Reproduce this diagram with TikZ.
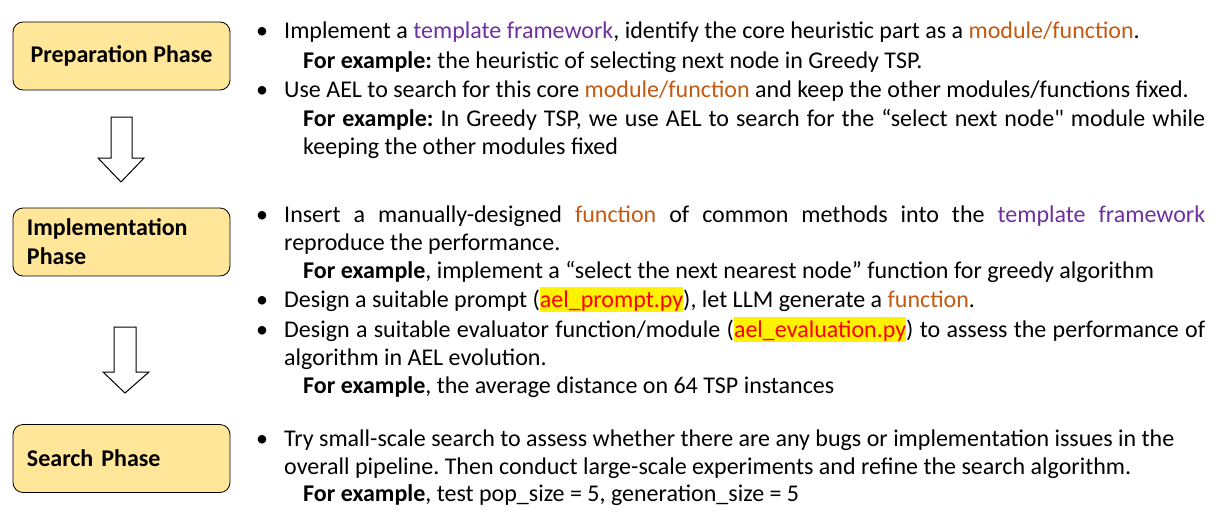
\documentclass[tikz,border=0pt]{standalone}
\usepackage{fontspec}
\setmainfont{Carlito}[Ligatures=TeXOff]
\usepackage{xcolor}
\definecolor{tplpurple}{HTML}{7030A0}
\definecolor{fnorange}{HTML}{C55A11}
\definecolor{phasefill}{HTML}{FFE699}
\newcommand{\tpl}[1]{\textcolor{tplpurple}{#1}}
\newcommand{\fn}[1]{\textcolor{fnorange}{#1}}
\newcommand{\hlfile}[1]{{\setlength{\fboxsep}{0pt}\colorbox{yellow}{\rule[-0.22em]{0pt}{1.05em}\textcolor{red}{#1}}}}
\frenchspacing
\begin{document}
\begin{tikzpicture}[x=1pt,y=-1pt,
  phase/.style={draw=black, line width=0.8pt, rounded corners=10pt, fill=phasefill,
    minimum width=217pt, minimum height=68pt, font=\fontsize{24}{29}\selectfont\bfseries},
  txt/.style={anchor=base west, inner sep=0pt, font=\fontsize{24}{29}\selectfont},
  bul/.style={anchor=base west, inner sep=0pt, font=\fontsize{24}{29}\selectfont},
  blockarrow/.style={draw=black, line width=1pt, fill=white, line join=miter}]
\useasboundingbox (0,0) rectangle (1220,514);
\fill[white] (0,0) rectangle (1220,514);

% phase boxes
\node[phase] (prep) at (121.5,56) {Preparation Phase};
\node[phase, text width=189pt, align=left] (impl) at (121.5,242) {Implementation\\Phase};
\node[phase, text width=189pt, align=left] (search) at (121.5,458.5) {Search Phase};

% block arrows
\draw[blockarrow] (111,117) -- (132,117) -- (132,158) -- (144,158) -- (121,182) -- (98,158) -- (111,158) -- cycle;
\draw[blockarrow] (114,327) -- (136,327) -- (136,372) -- (149,372) -- (125,393) -- (103,372) -- (114,372) -- cycle;

% section 1
\node[bul] (b1) at (256,38) {•};
\node[txt] (l11) at (284,38) {Implement a \tpl{template framework}, identify the core heuristic part as a \fn{module/function}.};
\node[txt] (l12) at (303,68) {\textbf{For example:} the heuristic of selecting next node in Greedy TSP.};
\node[bul] (b2) at (256,97) {•};
\node[txt] (l13) at (284,97) {Use AEL to search for this core \fn{module/function} and keep the other modules/functions fixed.};
\node[txt] (l14) at (303,126) {\makebox[902pt][s]{\textbf{For example:}\ In Greedy TSP, we use AEL to search for the “select next node" module while}};
\node[txt] (l15) at (303,154) {keeping the other modules fixed};

% section 2
\node[bul] (b3) at (256,222) {•};
\node[txt] (l21) at (284,222) {\makebox[921pt][s]{Insert a manually-designed \fn{function} of common methods into the \tpl{template framework}}};
\node[txt] (l22) at (284,250) {reproduce the performance.};
\node[txt] (l23) at (303,278) {\textbf{For example}, implement a “select the next nearest node” function for greedy algorithm};
\node[bul] (b4) at (256,307) {•};
\node[txt] (l24) at (284,307) {Design a suitable prompt (\hlfile{ael\_prompt.py}), let LLM generate a \fn{function}.};
\node[bul] (b5) at (256,337) {•};
\node[txt] (l25) at (284,337) {\makebox[921pt][s]{Design a suitable evaluator function/module (\hlfile{ael\_evaluation.py}) to assess the performance of}};
\node[txt] (l26) at (284,365) {algorithm in AEL evolution.};
\node[txt] (l27) at (303,393) {\textbf{For example}, the average distance on 64 TSP instances};

% section 3
\node[bul] (b6) at (256,446) {•};
\node[txt] (l31) at (284,446) {Try small-scale search to assess whether there are any bugs or implementation issues in the};
\node[txt] (l32) at (284,474) {overall pipeline. Then conduct large-scale experiments and refine the search algorithm.};
\node[txt] (l33) at (303,501) {\textbf{For example}, test pop\_size = 5, generation\_size = 5};
\end{tikzpicture}
\end{document}
